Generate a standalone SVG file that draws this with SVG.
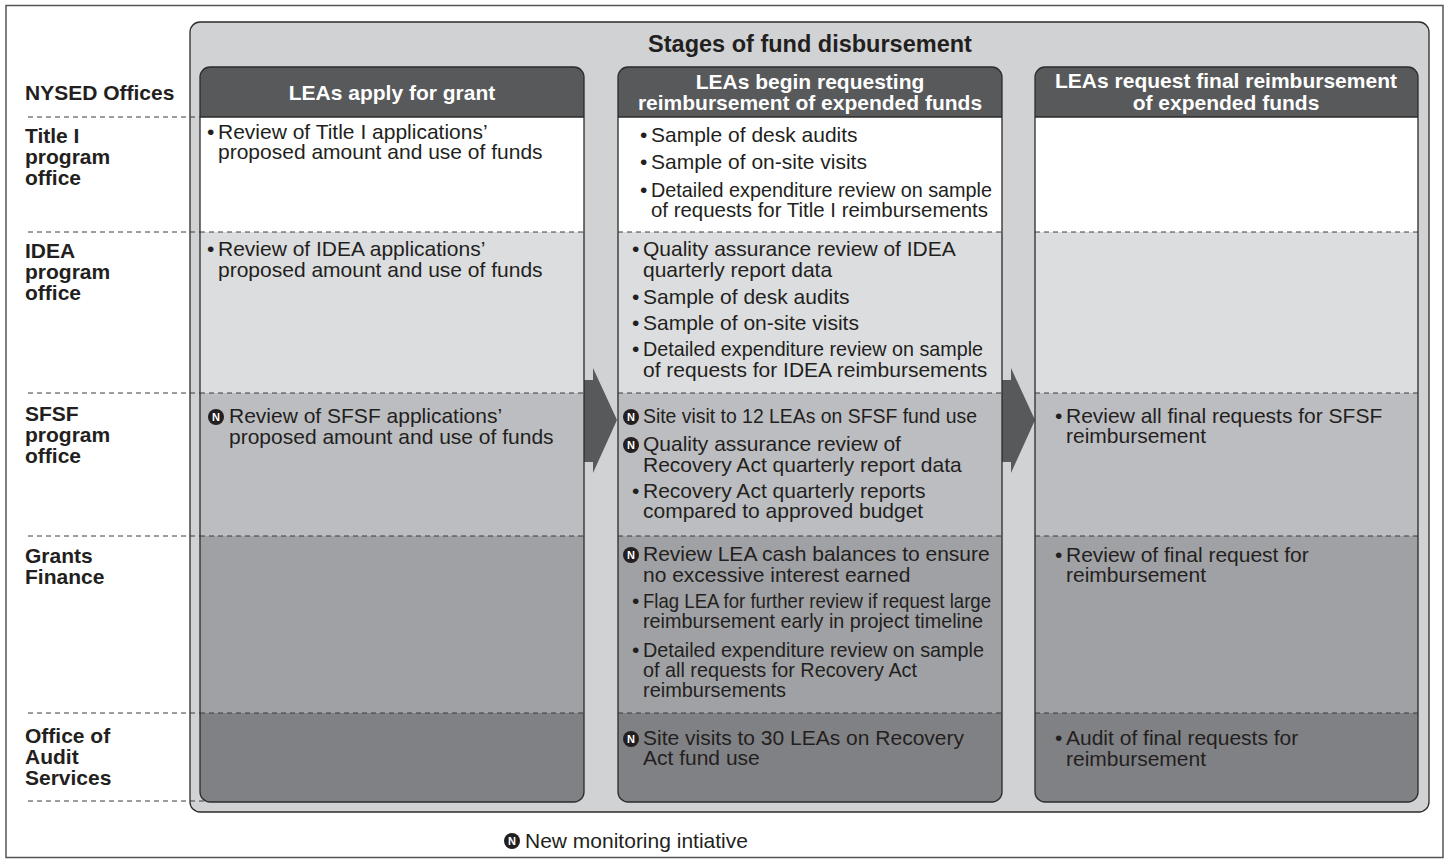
<svg xmlns="http://www.w3.org/2000/svg" width="1447" height="863" viewBox="0 0 1447 863">
<style>
text{font-family:"Liberation Sans",Arial,Helvetica,sans-serif;fill:#231f20}
.b{font-size:21px}
.lab{font-size:21px;font-weight:bold}
.hd{font-size:21px;font-weight:bold;fill:#fff;text-anchor:middle}
.ttl{font-size:23.5px;font-weight:bold}
.dash{stroke:#3a3a3a;stroke-width:1;stroke-dasharray:5 4;fill:none}
.colout{fill:none;stroke:#2b2b2b;stroke-width:1.3}
.sep{stroke:#2b2b2b;stroke-width:1.3}
.nb{fill:#231f20}
.nt{font-size:11px;font-weight:bold;fill:#fff;text-anchor:middle}
.r1{fill:#ffffff}.r2{fill:#dcdddf}.r3{fill:#bcbdc0}.r4{fill:#a0a1a4}.r5{fill:#808184}.hf{fill:#58595b}
</style>
<defs>
<clipPath id="c1"><rect x="200" y="67" width="384" height="735" rx="10"/></clipPath>
<clipPath id="c2"><rect x="618" y="67" width="384" height="735" rx="10"/></clipPath>
<clipPath id="c3"><rect x="1035" y="67" width="383" height="735" rx="10"/></clipPath>
</defs>

<rect x="6" y="5.5" width="1437" height="852" fill="#fff" stroke="#555" stroke-width="1.5"/>
<rect id="panel" x="190" y="22" width="1239" height="790" rx="10" fill="#d1d2d4" stroke="#2b2b2b" stroke-width="1.3"/>
<text class="ttl" x="810" y="52" text-anchor="middle">Stages of fund disbursement</text>

<g id="row-labels">
<text class="lab" x="25" y="100">NYSED Offices</text>
<text class="lab" x="25" y="143">Title I<tspan x="25" dy="21">program</tspan><tspan x="25" dy="21">office</tspan></text>
<text class="lab" x="25" y="258">IDEA<tspan x="25" dy="21">program</tspan><tspan x="25" dy="21">office</tspan></text>
<text class="lab" x="25" y="421">SFSF<tspan x="25" dy="21">program</tspan><tspan x="25" dy="21">office</tspan></text>
<text class="lab" x="25" y="563">Grants<tspan x="25" dy="21">Finance</tspan></text>
<text class="lab" x="25" y="743">Office of<tspan x="25" dy="21">Audit</tspan><tspan x="25" dy="21">Services</tspan></text>
<path class="dash" d="M28 117H200M28 232H200M28 393H200M28 536H200M28 713H200M28 801H208"/>
</g>

<g id="connectors">
<polygon fill="#58595b" points="580,380 593,380 593,368 617,420 593,473 593,462 580,462"/>
<polygon fill="#58595b" points="998,380 1011,380 1011,368 1035,420 1011,473 1011,462 998,462"/>
</g>

<g id="col1">
<g clip-path="url(#c1)">
<rect class="hf" x="200" y="67" width="384" height="50"/>
<rect class="r1" x="200" y="117" width="384" height="115"/>
<rect class="r2" x="200" y="232" width="384" height="161"/>
<rect class="r3" x="200" y="393" width="384" height="143"/>
<rect class="r4" x="200" y="536" width="384" height="177"/>
<rect class="r5" x="200" y="713" width="384" height="89"/>
</g>
<line class="sep" x1="200" y1="117" x2="584" y2="117"/>
<path class="dash" d="M200 232H584M200 393H584M200 536H584M200 713H584"/>
<rect class="colout" x="200" y="67" width="384" height="735" rx="10"/>
<text class="hd" x="392" y="100">LEAs apply for grant</text>
<text class="b" x="207" y="139">•</text>
<text class="b" x="218" y="139">Review of Title I applications’<tspan x="218" dy="20">proposed amount and use of funds</tspan></text>
<text class="b" x="207" y="256">•</text>
<text class="b" x="218" y="256">Review of IDEA applications’<tspan x="218" dy="21">proposed amount and use of funds</tspan></text>
<circle class="nb" cx="216" cy="417" r="8"/><text class="nt" x="216" y="421">N</text>
<text class="b" x="229" y="423">Review of SFSF applications’<tspan x="229" dy="21">proposed amount and use of funds</tspan></text>
</g>

<g id="col2">
<g clip-path="url(#c2)">
<rect class="hf" x="618" y="67" width="384" height="50"/>
<rect class="r1" x="618" y="117" width="384" height="115"/>
<rect class="r2" x="618" y="232" width="384" height="161"/>
<rect class="r3" x="618" y="393" width="384" height="143"/>
<rect class="r4" x="618" y="536" width="384" height="177"/>
<rect class="r5" x="618" y="713" width="384" height="89"/>
</g>
<line class="sep" x1="618" y1="117" x2="1002" y2="117"/>
<path class="dash" d="M618 232H1002M618 393H1002M618 536H1002M618 713H1002"/>
<rect class="colout" x="618" y="67" width="384" height="735" rx="10"/>
<text class="hd" x="810" y="89">LEAs begin requesting<tspan x="810" dy="21">reimbursement of expended funds</tspan></text>

<text class="b" x="640" y="142">•</text>
<text class="b" x="651" y="142">Sample of desk audits</text>
<text class="b" x="640" y="169">•</text>
<text class="b" x="651" y="169">Sample of on-site visits</text>
<text class="b" x="640" y="197">•</text>
<text class="b" x="651" y="197"><tspan textLength="341" lengthAdjust="spacingAndGlyphs">Detailed expenditure review on sample</tspan><tspan x="651" dy="20" textLength="337" lengthAdjust="spacingAndGlyphs">of requests for Title I reimbursements</tspan></text>

<text class="b" x="632" y="256">•</text>
<text class="b" x="643" y="256">Quality assurance review of IDEA<tspan x="643" dy="21">quarterly report data</tspan></text>
<text class="b" x="632" y="304">•</text>
<text class="b" x="643" y="304">Sample of desk audits</text>
<text class="b" x="632" y="330">•</text>
<text class="b" x="643" y="330">Sample of on-site visits</text>
<text class="b" x="632" y="356">•</text>
<text class="b" x="643" y="356"><tspan textLength="340" lengthAdjust="spacingAndGlyphs">Detailed expenditure review on sample</tspan><tspan x="643" dy="21">of requests for IDEA reimbursements</tspan></text>

<circle class="nb" cx="631" cy="417" r="8"/><text class="nt" x="631" y="421">N</text>
<text class="b" x="643" y="423" textLength="334" lengthAdjust="spacingAndGlyphs">Site visit to 12 LEAs on SFSF fund use</text>
<circle class="nb" cx="631" cy="445" r="8"/><text class="nt" x="631" y="449">N</text>
<text class="b" x="643" y="451">Quality assurance review of<tspan x="643" dy="21">Recovery Act quarterly report data</tspan></text>
<text class="b" x="632" y="498">•</text>
<text class="b" x="643" y="498">Recovery Act quarterly reports<tspan x="643" dy="20">compared to approved budget</tspan></text>

<circle class="nb" cx="631" cy="555" r="8"/><text class="nt" x="631" y="559">N</text>
<text class="b" x="643" y="561">Review LEA cash balances to ensure<tspan x="643" dy="21">no excessive interest earned</tspan></text>
<text class="b" x="632" y="608">•</text>
<text class="b" x="643" y="608"><tspan textLength="348" lengthAdjust="spacingAndGlyphs">Flag LEA for further review if request large</tspan><tspan x="643" dy="20" textLength="340" lengthAdjust="spacingAndGlyphs">reimbursement early in project timeline</tspan></text>
<text class="b" x="632" y="657">•</text>
<text class="b" x="643" y="657"><tspan textLength="341" lengthAdjust="spacingAndGlyphs">Detailed expenditure review on sample</tspan><tspan x="643" dy="20" textLength="274" lengthAdjust="spacingAndGlyphs">of all requests for Recovery Act</tspan><tspan x="643" dy="20" textLength="143" lengthAdjust="spacingAndGlyphs">reimbursements</tspan></text>

<circle class="nb" cx="631" cy="739" r="8"/><text class="nt" x="631" y="743">N</text>
<text class="b" x="643" y="745">Site visits to 30 LEAs on Recovery<tspan x="643" dy="20">Act fund use</tspan></text>
</g>

<g id="col3">
<g clip-path="url(#c3)">
<rect class="hf" x="1035" y="67" width="383" height="50"/>
<rect class="r1" x="1035" y="117" width="383" height="115"/>
<rect class="r2" x="1035" y="232" width="383" height="161"/>
<rect class="r3" x="1035" y="393" width="383" height="143"/>
<rect class="r4" x="1035" y="536" width="383" height="177"/>
<rect class="r5" x="1035" y="713" width="383" height="89"/>
</g>
<line class="sep" x1="1035" y1="117" x2="1418" y2="117"/>
<path class="dash" d="M1035 232H1418M1035 393H1418M1035 536H1418M1035 713H1418"/>
<rect class="colout" x="1035" y="67" width="383" height="735" rx="10"/>
<text class="hd" x="1226" y="88">LEAs request final reimbursement<tspan x="1226" dy="22">of expended funds</tspan></text>
<text class="b" x="1055" y="423">•</text>
<text class="b" x="1066" y="423">Review all final requests for SFSF<tspan x="1066" dy="20">reimbursement</tspan></text>
<text class="b" x="1055" y="562">•</text>
<text class="b" x="1066" y="562">Review of final request for<tspan x="1066" dy="20">reimbursement</tspan></text>
<text class="b" x="1055" y="745">•</text>
<text class="b" x="1066" y="745">Audit of final requests for<tspan x="1066" dy="21">reimbursement</tspan></text>
</g>

<g id="legend">
<circle class="nb" cx="512" cy="841" r="8"/><text class="nt" x="512" y="845">N</text>
<text class="b" x="525" y="848">New monitoring intiative</text>
</g>
</svg>
